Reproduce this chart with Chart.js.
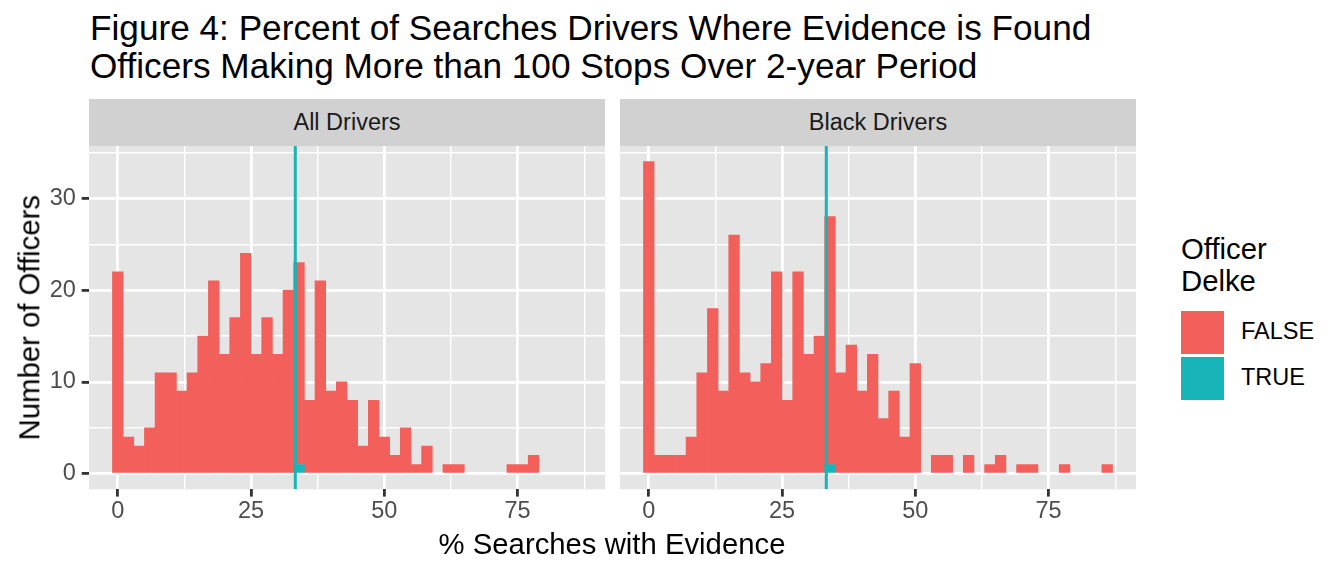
<!DOCTYPE html>
<html>
<head>
<meta charset="utf-8">
<title>Figure 4</title>
<script src="https://cdn.jsdelivr.net/npm/chart.js@4.4.1/dist/chart.umd.min.js"></script>
<style>
  html, body { margin: 0; padding: 0; background: #ffffff; }
  body {
    width: 1344px; height: 576px; position: relative; overflow: hidden;
    font-family: "Liberation Sans", Arial, Helvetica, sans-serif;
  }
  .abs { position: absolute; white-space: nowrap; }
  #title { left: 90px; top: 9px; font-size: 35.2px; line-height: 38px; color: #000; }
  .strip {
    top: 99px; height: 47px; background: #D1D1D1; color: #1A1A1A;
    font-size: 23.5px; line-height: 23.5px;
    display: flex; align-items: center; justify-content: center;
  }
  .panel { top: 146px; height: 430px; }
  #ytitle {
    left: -121px; top: 303px; width: 300px; text-align: center;
    font-size: 29.3px; line-height: 29.3px; color: #000;
    transform: rotate(-90deg); transform-origin: 150px 14.65px;
  }
  #xtitle {
    left: 312px; width: 600px; top: 529px; text-align: center;
    font-size: 29.3px; line-height: 29.3px; color: #000;
  }
  #legtitle { left: 1181px; top: 233px; font-size: 29.3px; line-height: 31.6px; color: #000; }
  .key { left: 1181px; width: 43px; height: 43px; }
  .keylab { left: 1241px; font-size: 23.5px; line-height: 23.5px; color: #000; }
</style>
</head>
<body>

<div id="title" class="abs">Figure 4: Percent of Searches Drivers Where Evidence is Found<br>Officers Making More than 100 Stops Over 2-year Period</div>

<div class="abs strip" style="left:89px; width:516px;">All Drivers</div>
<div class="abs strip" style="left:620px; width:516px;">Black Drivers</div>

<div class="abs panel" style="left:0px; width:605px;"><canvas id="allChart"></canvas></div>
<div class="abs panel" style="left:620px; width:516px;"><canvas id="blackChart"></canvas></div>

<div id="ytitle" class="abs">Number of Officers</div>
<div id="xtitle" class="abs">% Searches with Evidence</div>

<div id="legtitle" class="abs">Officer<br>Delke</div>
<div class="abs key" id="keyFalse" style="top:311px;"></div>
<div class="abs key" id="keyTrue" style="top:357px;"></div>
<div class="abs keylab" style="top:320px;">FALSE</div>
<div class="abs keylab" style="top:366px;">TRUE</div>

<script>
// histogram bins (centre of each 2-point bin)
const binCenters = [0, 2, 4, 6, 8, 10, 12, 14, 16, 18, 20, 22, 24, 26, 28, 30, 32, 34, 36, 38, 40, 42,
                    44, 46, 48, 50, 52, 54, 56, 58, 60, 62, 64, 66, 68, 70, 72, 74, 76, 78, 80, 82, 84, 86];

// All Drivers
const allFalse = [22, 4, 3, 5, 11, 11, 9, 11, 15, 21, 13, 17, 24, 13, 17, 13, 20, 22, 8, 21, 9, 10,
                  8, 3, 8, 4, 2, 5, 1, 3, 0, 1, 1, 0, 0, 0, 0, 1, 1, 2, 0, 0, 0, 0];
const allTrue  = [0, 0, 0, 0, 0, 0, 0, 0, 0, 0, 0, 0, 0, 0, 0, 0, 0, 1, 0, 0, 0, 0,
                  0, 0, 0, 0, 0, 0, 0, 0, 0, 0, 0, 0, 0, 0, 0, 0, 0, 0, 0, 0, 0, 0];

// Black Drivers
const blackFalse = [34, 2, 2, 2, 4, 11, 18, 9, 26, 11, 10, 12, 22, 8, 22, 13, 15, 27, 11, 14, 9, 13,
                    6, 9, 4, 12, 0, 2, 2, 0, 2, 0, 1, 2, 0, 1, 1, 0, 0, 1, 0, 0, 0, 1];
const blackTrue  = [0, 0, 0, 0, 0, 0, 0, 0, 0, 0, 0, 0, 0, 0, 0, 0, 0, 1, 0, 0, 0, 0,
                    0, 0, 0, 0, 0, 0, 0, 0, 0, 0, 0, 0, 0, 0, 0, 0, 0, 0, 0, 0, 0, 0];

// Officer Delke's rate (vertical line)
const delkeRate = 33.3;

// axes
const xMajorTicks = [0, 25, 50, 75];
const xMinorTicks = [12.5, 37.5, 62.5, 87.5];
const yMajorTicks = [0, 10, 20, 30];
const yMinorTicks = [5, 15, 25, 35];
const xRange = [-5.4, 91.4];
const yRange = [-1.7, 35.7];

const RED = '#F3605B';
const TEAL = '#17B4B8';
const PANEL_BG = '#E5E5E5';

document.getElementById('keyFalse').style.background = RED;
document.getElementById('keyTrue').style.background = TEAL;

Chart.defaults.font.family = '"Liberation Sans", Arial, Helvetica, sans-serif';
Chart.defaults.animation = false;

// grey panel background behind the grid
const panelBackground = {
    id: 'panelBackground',
    beforeDraw(chart) {
        const { ctx, chartArea } = chart;
        ctx.save();
        ctx.fillStyle = PANEL_BG;
        ctx.fillRect(chartArea.left, chartArea.top, chartArea.right - chartArea.left, chartArea.bottom - chartArea.top);
        ctx.restore();
    }
};

function tickList(major, minor) {
    return major.concat(minor).sort((a, b) => a - b).map(v => ({ value: v }));
}

// empty bins are left out so nothing is drawn on the baseline
function binData(counts) {
    return binCenters.map((x, i) => ({ x: x, y: counts[i] === 0 ? null : counts[i] }));
}

function makePanel(canvasId, falseCounts, trueCounts, showY) {
    const isMajorX = v => xMajorTicks.includes(v);
    const isMajorY = v => yMajorTicks.includes(v);

    return new Chart(document.getElementById(canvasId), {
        type: 'bar',
        data: {
            datasets: [
                {
                    type: 'line',
                    label: 'Delke',
                    data: [{ x: delkeRate, y: yRange[0] }, { x: delkeRate, y: yRange[1] }],
                    borderColor: TEAL,
                    borderWidth: 3,
                    pointRadius: 0,
                    stack: 'vline'
                },
                {
                    label: 'TRUE',
                    data: binData(trueCounts),
                    backgroundColor: TEAL,
                    borderWidth: 0,
                    barPercentage: 1,
                    categoryPercentage: 1,
                    stack: 'bins'
                },
                {
                    label: 'FALSE',
                    data: binData(falseCounts),
                    backgroundColor: RED,
                    borderWidth: 0,
                    barPercentage: 1,
                    categoryPercentage: 1,
                    stack: 'bins'
                }
            ]
        },
        plugins: [panelBackground],
        options: {
            responsive: true,
            maintainAspectRatio: false,
            layout: { padding: 0 },
            plugins: {
                legend: { display: false },
                tooltip: { enabled: false }
            },
            scales: {
                x: {
                    type: 'linear',
                    stacked: true,
                    offset: false,
                    min: xRange[0],
                    max: xRange[1],
                    afterBuildTicks: s => { s.ticks = tickList(xMajorTicks, xMinorTicks); },
                    afterFit: s => {
                        s.height = 86.7;
                        s.paddingLeft = 0;
                        s.paddingRight = 0;
                    },
                    border: { display: false },
                    grid: {
                        offset: false,
                        color: '#FFFFFF',
                        lineWidth: c => (c.tick && isMajorX(c.tick.value)) ? 2.8 : 1.4,
                        tickLength: 7.3,
                        tickWidth: 2.8,
                        tickColor: c => (c.tick && isMajorX(c.tick.value)) ? '#333333' : 'rgba(0,0,0,0)'
                    },
                    ticks: {
                        autoSkip: false,
                        maxRotation: 0,
                        padding: 1,
                        color: '#4D4D4D',
                        font: { size: 23.5 },
                        callback: v => isMajorX(v) ? String(v) : ''
                    }
                },
                y: {
                    type: 'linear',
                    stacked: true,
                    min: yRange[0],
                    max: yRange[1],
                    afterBuildTicks: s => { s.ticks = tickList(yMajorTicks, yMinorTicks); },
                    afterFit: s => {
                        s.width = showY ? 89 : 0;
                        s.paddingTop = 0;
                        s.paddingBottom = 0;
                    },
                    border: { display: false },
                    grid: {
                        color: '#FFFFFF',
                        lineWidth: c => (c.tick && isMajorY(c.tick.value)) ? 2.8 : 1.4,
                        drawTicks: showY,
                        tickLength: 7.3,
                        tickWidth: 2.8,
                        tickColor: c => (c.tick && isMajorY(c.tick.value)) ? '#333333' : 'rgba(0,0,0,0)'
                    },
                    ticks: {
                        display: showY,
                        autoSkip: false,
                        padding: 5.9,
                        color: '#4D4D4D',
                        font: { size: 23.5 },
                        callback: v => isMajorY(v) ? String(v) : ''
                    }
                }
            }
        }
    });
}

makePanel('allChart', allFalse, allTrue, true);
makePanel('blackChart', blackFalse, blackTrue, false);
</script>
</body>
</html>
